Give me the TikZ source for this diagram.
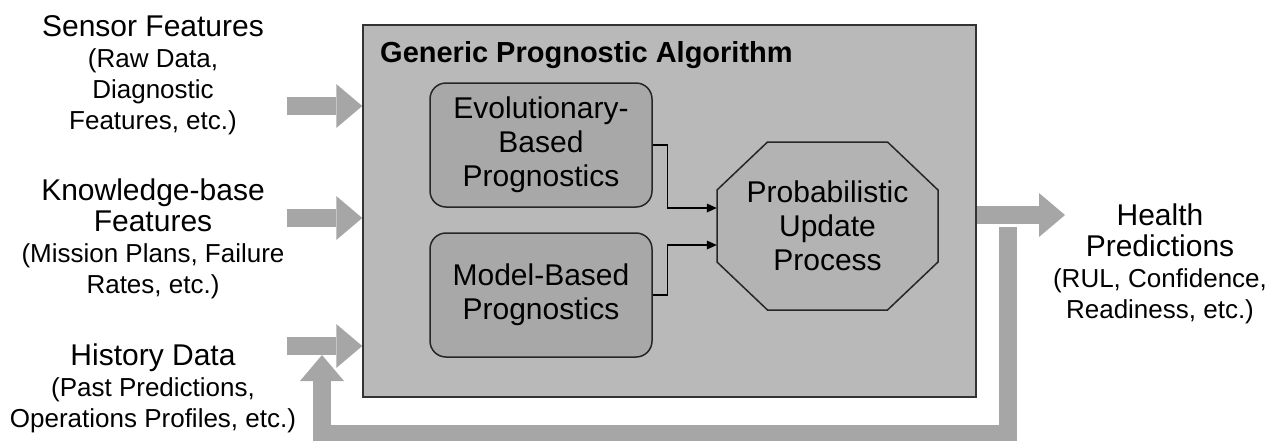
\documentclass[tikz,border=0pt]{standalone}
\usepackage{fontspec}
\setmainfont{Liberation Sans}
\usepackage{xcolor}
\usetikzlibrary{arrows.meta,calc}
\definecolor{boxgray}{HTML}{B9B9B9}
\definecolor{procgray}{HTML}{A8A8A8}
\definecolor{octgray}{HTML}{B3B3B3}
\definecolor{flowgray}{HTML}{A6A6A6}
\newcommand\lblbig{\fontsize{30}{31}\selectfont}
\newcommand\lblsmall{\fontsize{26}{31}\selectfont}
\newcommand\boxfont{\fontsize{30}{34}\selectfont}
\newcommand\titlefont{\bfseries\fontsize{29}{30}\selectfont}

\begin{document}
\begin{tikzpicture}[x=1pt, y=-1pt,
  lbl/.style={align=center, inner sep=0pt, anchor=north, font=\lblsmall},
  gpbox/.style={draw=black!80, line width=1.5pt, fill=boxgray,
    minimum width=613pt, minimum height=372pt},
  procbox/.style={draw=black!85, line width=1.5pt, fill=procgray,
    rounded corners=16pt, minimum width=222pt, minimum height=124pt,
    align=center, font=\boxfont, inner sep=0pt},
  octline/.style={draw=black!85, line width=1.5pt, fill=octgray, line join=miter},
  updatebox/.style={minimum width=221pt, minimum height=168pt,
    align=center, font=\boxfont, inner sep=0pt},
  fatarrow/.style={draw=flowgray, line width=18pt,
    -{Triangle[length=26pt, width=44pt, line width=0pt]}},
  link/.style={draw=black, line width=1.3pt,
    -{Triangle[length=10pt, width=9pt, line width=0pt]}}]

  \useasboundingbox (0,0) rectangle (1279,440);

  % ============== Generic prognostic algorithm ==============
  \node[gpbox] (gpa) at (669.5,211) {};
  \node[anchor=base west, font=\titlefont, inner sep=0pt] (gpatitle) at (380,62)
    {Generic Prognostic Algorithm};

  \node[procbox] (evo) at (541,145) {Evolutionary-\\Based\\Prognostics};
  \node[procbox] (model) at (541,295) {Model-Based\\Prognostics};

  % Octagon of the update process
  \coordinate (updc) at (827.5,226);
  \draw[octline] ($(updc)+(-60,-84)$) -- ($(updc)+(60,-84)$)
    -- ($(updc)+(110.5,-36)$) -- ($(updc)+(110.5,36)$)
    -- ($(updc)+(60,84)$) -- ($(updc)+(-60,84)$)
    -- ($(updc)+(-110.5,36)$) -- ($(updc)+(-110.5,-36)$) -- cycle;
  \node[updatebox] (update) at (updc) {Probabilistic\\Update\\Process};

  % Links into the update process
  \draw[link] (evo.east) -- ++(15,0) |- (update.west |- 0,208);
  \draw[link] (model.east) -- ++(15,0) |- (update.west |- 0,245);

  % ============== Inputs ==============
  \node[lbl] (sensor) at (153,15)
    {{\lblbig Sensor Features}\\(Raw Data,\\Diagnostic\\Features, etc.)};
  \node[lbl] (knowledge) at (153,179)
    {{\lblbig Knowledge-base}\\{\lblbig Features}\\(Mission Plans, Failure\\Rates, etc.)};
  \node[lbl] (history) at (153,344)
    {{\lblbig History Data}\\(Past Predictions,\\Operations Profiles, etc.)};

  \coordinate (sensorin) at (287,106);
  \coordinate (knowin) at (287,218);
  \coordinate (histin) at (287,346);
  \draw[fatarrow] (sensorin) -- (sensorin -| gpa.west);
  \draw[fatarrow] (knowin) -- (knowin -| gpa.west);
  \draw[fatarrow] (histin) -- (histin -| gpa.west);

  % ============== Output and feedback ==============
  \node[lbl] (health) at (1160,204)
    {{\lblbig Health}\\{\lblbig Predictions}\\(RUL, Confidence,\\Readiness, etc.)};

  \coordinate (healthout) at (1065,215);
  \draw[fatarrow] (gpa.east |- healthout) -- (healthout);

  \coordinate (fbtop) at (1008,227);
  \coordinate (fbbottom) at (1008,434);
  \coordinate (fbend) at (322,355);
  \draw[fatarrow, line join=miter] (fbtop) -- (fbbottom) -| (fbend);

\end{tikzpicture}
\end{document}
